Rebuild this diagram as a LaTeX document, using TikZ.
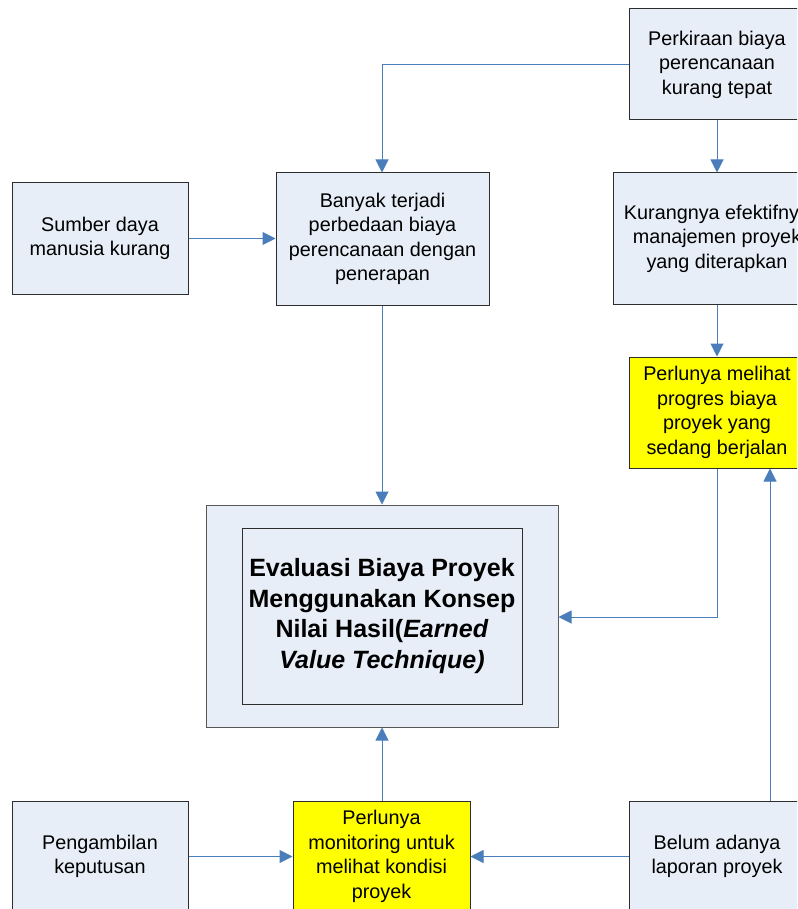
\documentclass[tikz,border=0pt]{standalone}
\usepackage{fontspec}
\setmainfont{Liberation Sans}
\usetikzlibrary{arrows.meta}
\definecolor{boxfill}{RGB}{232,238,247}
\definecolor{boxline}{RGB}{45,45,45}
\definecolor{arrowblue}{RGB}{74,126,187}
\definecolor{hiyellow}{RGB}{255,255,0}
\tikzset{
  box/.style={draw=boxline, line width=1pt, fill=boxfill, align=center, inner sep=0pt,
    font=\fontsize{19.8}{24.5}\selectfont},
  hibox/.style={box, fill=hiyellow},
  conn/.style={draw=arrowblue, line width=1pt, -{Triangle[length=13pt,width=13pt]}}
}
\begin{document}
\begin{tikzpicture}[x=1pt,y=-1pt]
\useasboundingbox (0,0) rectangle (797,909);
\clip (0,0) rectangle (797,909);
\node[box, minimum width=176pt, minimum height=111pt] (sumber) at (100,238.5) {Sumber daya\\manusia kurang};
\node[box, minimum width=213pt, minimum height=132pt] (banyak) at (382.5,239) {Banyak terjadi\\perbedaan biaya\\perencanaan dengan\\penerapan};
\node[box, minimum width=176pt, minimum height=111pt] (perkiraan) at (717,64.5) {Perkiraan biaya\\perencanaan\\kurang tepat};
\node[box, minimum width=208pt, minimum height=131pt] (kurang) at (717,238.5) {Kurangnya efektifnya\\manajemen proyek\\yang diterapkan};
\node[hibox, minimum width=176pt, minimum height=111pt] (perlu1) at (717,412.5) {Perlunya melihat\\progres biaya\\proyek yang\\sedang berjalan};
\node[box, draw=boxline!80, minimum width=352pt, minimum height=222pt] (outer) at (382,616) {};
\node[box, fill=none, minimum width=280pt, minimum height=176pt, font=\fontsize{25}{30.5}\selectfont\bfseries] (inner) at (382,616) {Evaluasi Biaya Proyek\\Menggunakan Konsep\\Nilai Hasil(\textit{Earned}\\\textit{Value Technique)}};
\node[box, minimum width=176pt, minimum height=111pt] (ambil) at (100,856.5) {Pengambilan\\keputusan};
\node[hibox, minimum width=177pt, minimum height=111pt] (perlu2) at (381.5,856.5) {Perlunya\\monitoring untuk\\melihat kondisi\\proyek};
\node[box, minimum width=176pt, minimum height=111pt] (belum) at (717,856.5) {Belum adanya\\laporan proyek};
\coordinate (xa) at (382,0);
\coordinate (xb) at (770,0);
\coordinate (yc) at (0,617);
\draw[conn] (perkiraan.west) -- (xa |- perkiraan.west) -- (xa |- banyak.north);
\draw[conn] (perkiraan.south) -- (kurang.north);
\draw[conn] (sumber.east) -- (banyak.west |- sumber.east);
\draw[conn] (xa |- banyak.south) -- (xa |- outer.north);
\draw[conn] (kurang.south) -- (perlu1.north);
\draw[conn] (perlu1.south) -- (perlu1.south |- yc) -- (outer.east |- yc);
\draw[conn] (xb |- belum.north) -- (xb |- perlu1.south);
\draw[conn] (xa |- perlu2.north) -- (xa |- outer.south);
\draw[conn] (ambil.east) -- (perlu2.west);
\draw[conn] (belum.west) -- (perlu2.east);
\end{tikzpicture}
\end{document}
